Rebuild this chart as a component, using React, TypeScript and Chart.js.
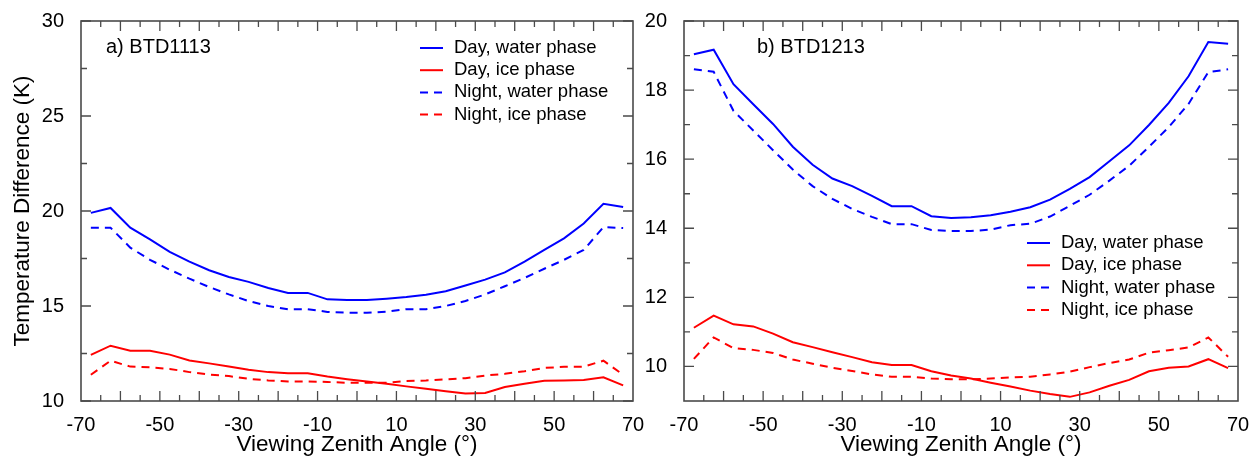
import React, { useEffect, useRef } from "react";
import { Chart, registerables } from "chart.js";

Chart.register(...registerables);

const FONT = '"Liberation Sans", Arial, Helvetica, sans-serif';

// Viewing zenith angle bin centres (degrees)
const vza = [
  -67.5, -62.5, -57.5, -52.5, -47.5, -42.5, -37.5, -32.5, -27.5, -22.5, -17.5, -12.5, -7.5, -2.5,
  2.5, 7.5, 12.5, 17.5, 22.5, 27.5, 32.5, 37.5, 42.5, 47.5, 52.5, 57.5, 62.5, 67.5,
];

// Panel a) BTD1113
const aDayWater = [
  19.9, 20.16, 19.12, 18.51, 17.85, 17.34, 16.88, 16.53, 16.27, 15.95, 15.69, 15.69, 15.35, 15.31,
  15.31, 15.38, 15.47, 15.59, 15.78, 16.08, 16.39, 16.77, 17.34, 17.95, 18.56, 19.34, 20.38, 20.21,
];
const aDayIce = [
  12.43, 12.91, 12.65, 12.65, 12.44, 12.13, 11.98, 11.81, 11.65, 11.52, 11.46, 11.46, 11.29, 11.15,
  11.03, 10.91, 10.77, 10.65, 10.51, 10.39, 10.42, 10.74, 10.91, 11.07, 11.08, 11.1, 11.25, 10.82,
];
const aNightWater = [
  19.12, 19.12, 18.07, 17.43, 16.91, 16.44, 16.0, 15.61, 15.26, 15.0, 14.83, 14.83, 14.69, 14.65,
  14.65, 14.7, 14.83, 14.83, 15.0, 15.26, 15.61, 16.04, 16.48, 16.96, 17.43, 17.95, 19.15, 19.1,
];
const aNightIce = [
  11.38, 12.12, 11.81, 11.77, 11.69, 11.52, 11.39, 11.31, 11.17, 11.08, 11.03, 11.03, 11.0, 10.96,
  10.96, 10.96, 11.05, 11.08, 11.14, 11.2, 11.34, 11.43, 11.57, 11.74, 11.8, 11.81, 12.12, 11.38,
];

// Panel b) BTD1213
const bDayWater = [
  19.04, 19.17, 18.17, 17.59, 17.02, 16.36, 15.84, 15.44, 15.22, 14.94, 14.64, 14.64, 14.35, 14.3,
  14.32, 14.38, 14.48, 14.61, 14.83, 15.14, 15.48, 15.94, 16.4, 16.99, 17.63, 18.4, 19.39, 19.34,
];
const bDayIce = [
  11.12, 11.47, 11.22, 11.16, 10.95, 10.7, 10.56, 10.41, 10.27, 10.12, 10.04, 10.04, 9.86, 9.74,
  9.65, 9.53, 9.42, 9.3, 9.2, 9.12, 9.25, 9.44, 9.61, 9.86, 9.96, 10.0, 10.21, 9.95,
];
const bNightWater = [
  18.6, 18.53, 17.4, 16.83, 16.26, 15.7, 15.22, 14.85, 14.56, 14.33, 14.12, 14.12, 13.95, 13.92,
  13.92, 13.96, 14.09, 14.13, 14.34, 14.65, 14.97, 15.38, 15.81, 16.36, 16.93, 17.6, 18.52, 18.6,
];
const bNightIce = [
  10.22, 10.84, 10.53, 10.48, 10.39, 10.2, 10.08, 9.96, 9.87, 9.77, 9.7, 9.7, 9.65, 9.63,
  9.63, 9.65, 9.68, 9.7, 9.77, 9.85, 9.98, 10.1, 10.2, 10.4, 10.47, 10.55, 10.84, 10.28,
];

const seriesLabels = ["Day, water phase", "Day, ice phase", "Night, water phase", "Night, ice phase"];

// Axis ticks
const xTickLabels = [-70, -50, -30, -10, 10, 30, 50, 70];
const xMajorTicks = [-60, -50, -40, -30, -20, -10, 0, 10, 20, 30, 40, 50, 60];
const xMinorTicks = [-65, -55, -45, -35, -25, -15, -5, 5, 15, 25, 35, 45, 55, 65];
const aYTicks = [10, 15, 20, 25, 30];
const aYMinorTicks = [12.5, 17.5, 22.5, 27.5];
const bYTicks = [10, 12, 14, 16, 18, 20];
const bYMinorTicks = [11, 13, 15, 17, 19];

const BLUE = "#0000ff";
const RED = "#ff0000";
const AXIS = "#4a4a4a";

const decoPlugin = {
  id: "deco",
  afterDatasetsDraw(chart: any, _args: any, opts: any) {
    const { ctx, chartArea: ca, scales } = chart;
    const xs = scales.x;
    const ys = scales.y;
    ctx.save();
    ctx.strokeStyle = AXIS;
    ctx.lineWidth = 1.3;
    ctx.setLineDash([]);
    const xTicks = (vals: number[], len: number) => {
      vals.forEach((v) => {
        const px = xs.getPixelForValue(v);
        ctx.beginPath();
        ctx.moveTo(px, ca.bottom);
        ctx.lineTo(px, ca.bottom - len);
        ctx.moveTo(px, ca.top);
        ctx.lineTo(px, ca.top + len);
        ctx.stroke();
      });
    };
    const yTicks = (vals: number[], len: number) => {
      vals.forEach((v) => {
        const py = ys.getPixelForValue(v);
        ctx.beginPath();
        ctx.moveTo(ca.left, py);
        ctx.lineTo(ca.left + len, py);
        ctx.moveTo(ca.right, py);
        ctx.lineTo(ca.right - len, py);
        ctx.stroke();
      });
    };
    xTicks(xMajorTicks, 10);
    xTicks(xMinorTicks, 6);
    yTicks(opts.yMajor, 10);
    yTicks(opts.yMinor, 6);
    ctx.lineWidth = 1.6;
    ctx.strokeRect(ca.left, ca.top, ca.right - ca.left, ca.bottom - ca.top);

    // panel label
    ctx.fillStyle = "#000";
    ctx.textBaseline = "middle";
    ctx.textAlign = "left";
    ctx.font = `20px ${FONT}`;
    ctx.fillText(opts.label, opts.labelX, opts.labelY);

    // legend
    ctx.font = `18.5px ${FONT}`;
    chart.data.datasets.forEach((ds: any, i: number) => {
      const y = opts.legendY + i * opts.legendGap;
      ctx.strokeStyle = ds.borderColor;
      ctx.lineWidth = 2;
      ctx.setLineDash(ds.borderDash || []);
      ctx.beginPath();
      ctx.moveTo(opts.legendX, y);
      ctx.lineTo(opts.legendX + 23, y);
      ctx.stroke();
      ctx.setLineDash([]);
      ctx.fillText(ds.label, opts.legendX + 34, y);
    });
    ctx.restore();
  },
};

function toPts(ys: number[]) {
  return vza.map((x, i) => ({ x, y: ys[i] }));
}

function buildConfig(p: any): any {
  const series = [p.dayWater, p.dayIce, p.nightWater, p.nightIce];
  const colors = [BLUE, RED, BLUE, RED];
  const dashes = [[], [], [8, 6], [8, 6]];
  return {
    type: "line",
    data: {
      datasets: series.map((s, i) => ({
        label: seriesLabels[i],
        data: toPts(s),
        borderColor: colors[i],
        backgroundColor: colors[i],
        borderWidth: 2,
        borderDash: dashes[i],
        pointRadius: 0,
        tension: 0,
        fill: false,
      })),
    },
    options: {
      responsive: false,
      animation: false,
      devicePixelRatio: 1,
      layout: { autoPadding: false, padding: { left: 0, right: p.padRight, top: 14, bottom: 0 } },
      plugins: {
        legend: { display: false },
        tooltip: { enabled: false },
        deco: {
          label: p.label,
          labelX: p.labelX,
          labelY: 47,
          legendX: p.legendX,
          legendY: p.legendY,
          legendGap: p.legendGap,
          yMajor: p.yTicks,
          yMinor: p.yMinor,
        },
      },
      scales: {
        x: {
          type: "linear",
          min: -70,
          max: 70,
          grid: { display: false },
          border: { display: false },
          afterBuildTicks: (s: any) => {
            s.ticks = xTickLabels.map((v) => ({ value: v }));
          },
          afterFit: (s: any) => {
            s.height = 63;
          },
          ticks: {
            autoSkip: false,
            maxRotation: 0,
            padding: 4.5,
            color: "#000",
            font: { family: FONT, size: 20 },
            callback: (v: any) => String(v),
          },
          title: {
            display: true,
            text: "Viewing Zenith Angle (°)",
            color: "#000",
            font: { family: FONT, size: 22.5 },
            padding: { top: 0, bottom: 5.5 },
          },
        },
        y: {
          type: "linear",
          min: p.yMin,
          max: p.yMax,
          grid: { display: false },
          border: { display: false },
          afterBuildTicks: (s: any) => {
            s.ticks = p.yTicks.map((v: number) => ({ value: v }));
          },
          afterFit: (s: any) => {
            s.width = p.yWidth;
          },
          ticks: {
            padding: 9,
            color: "#000",
            font: { family: FONT, size: 20 },
            callback: (v: any) => String(v),
          },
          title: {
            display: !!p.yTitle,
            text: p.yTitle || "",
            color: "#000",
            font: { family: FONT, size: 22.5 },
            padding: { top: 9.5, bottom: 0 },
          },
        },
      },
    },
    plugins: [decoPlugin],
  };
}

function Panel({ left, width, params }: { left: number; width: number; params: any }) {
  const ref = useRef<HTMLCanvasElement | null>(null);
  useEffect(() => {
    if (!ref.current) return;
    const chart = new Chart(ref.current, buildConfig(params));
    return () => chart.destroy();
  }, []);
  return (
    <canvas
      ref={ref}
      width={width}
      height={464}
      style={{ position: "absolute", left, top: 0, width, height: 464, display: "block" }}
    />
  );
}

const panelA = {
  dayWater: aDayWater,
  dayIce: aDayIce,
  nightWater: aNightWater,
  nightIce: aNightIce,
  yMin: 10,
  yMax: 30,
  yTicks: aYTicks,
  yMinor: aYMinorTicks,
  yWidth: 81,
  padRight: 27,
  yTitle: "Temperature Difference (K)",
  label: "a) BTD1113",
  labelX: 106,
  legendX: 420,
  legendY: 48,
  legendGap: 22.2,
};

const panelB = {
  dayWater: bDayWater,
  dayIce: bDayIce,
  nightWater: bNightWater,
  nightIce: bNightIce,
  yMin: 9,
  yMax: 20,
  yTicks: bYTicks,
  yMinor: bYMinorTicks,
  yWidth: 44,
  padRight: 17,
  yTitle: "",
  label: "b) BTD1213",
  labelX: 117,
  legendX: 387,
  legendY: 243,
  legendGap: 22.3,
};

export default function App() {
  return (
    <div style={{ position: "absolute", left: 0, top: 0, width: 1255, height: 464, background: "#fff" }}>
      <Panel left={0} width={660} params={panelA} />
      <Panel left={640} width={615} params={panelB} />
    </div>
  );
}
